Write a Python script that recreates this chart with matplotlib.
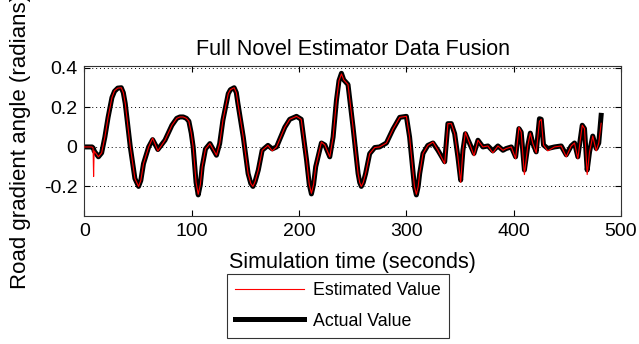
import matplotlib
matplotlib.use("Agg")
import matplotlib.pyplot as plt
from matplotlib.lines import Line2D

plt.rcParams['font.family'] = ['Liberation Sans', 'DejaVu Sans']
plt.rcParams['axes.unicode_minus'] = False

time_s = [
    0, 7, 8, 8.5, 9, 13, 16, 19, 22, 25.6, 28, 31, 34.3, 36.2, 38, 42.7, 47, 50.4, 52.5, 55, 59.8,
    63.5, 68.4, 75, 81.5, 86, 89, 92, 95, 97.3, 99.5, 101.3,
    104, 106, 108, 109.7, 112.8, 116.9, 123, 126, 129, 134,
    136, 139.5, 141.5, 143, 148, 152.5, 155, 157, 159, 162, 165.6, 171, 175, 179, 186.7,
    191.3, 197.6, 202, 207, 209.5, 211.5, 213.5, 215.5, 220.8, 224, 228.6, 231.7, 234.8, 237.2,
    239.5, 241.6, 245.6, 250.3,
    255, 256.5, 258, 259.8, 262, 265.8, 270.5, 275, 281.4, 287.5, 293.8, 300, 303,
    306, 307.5, 309.3, 311, 312.4, 315.5, 320, 324.8, 329.4, 335.7, 338.7, 341.9, 345,
    348, 350.6, 352.7, 355, 359, 363, 366.7, 371.3, 376, 380.6, 385.3, 390, 393, 397.8, 401.8,
    404.9, 407, 410, 413.2, 415.5, 417.9, 421, 424, 425.7, 427.8, 431.8, 438,
    444.3, 449, 453.6, 456.7, 459.8, 463.9, 466, 468.5, 470.7, 473.7, 476.9, 479.3, 481.5,
]

actual = [
    0, 0, -0.005, -0.01, -0.02, -0.05, -0.03, 0.05, 0.15, 0.25, 0.282, 0.298, 0.30, 0.275, 0.22,
    0.0, -0.16, -0.2, -0.17, -0.085, 0.0,
    0.037, -0.013, 0.034, 0.11, 0.145, 0.152, 0.152, 0.145, 0.13, 0.07, 0.0,
    -0.18, -0.243, -0.19, -0.1, -0.01, 0.017, -0.042, 0.017, 0.135, 0.27,
    0.29, 0.30, 0.275, 0.22, 0.05, -0.135, -0.185, -0.2, -0.175, -0.117, -0.017, 0.008, -0.01,
    0.0, 0.10,
    0.14, 0.155, 0.14, -0.067, -0.19, -0.238, -0.19, -0.1, 0.02, 0.01, -0.05, 0.05, 0.235, 0.336,
    0.373, 0.34, 0.316, 0.10,
    -0.135, -0.18, -0.2, -0.18, -0.135, -0.034, -0.003, 0.0, 0.02, 0.09, 0.15, 0.155, 0.05,
    -0.117, -0.2, -0.243, -0.2, -0.135, -0.033, 0.008, 0.02, -0.017, -0.075, 0.118, 0.118, 0.067,
    -0.05, -0.168, -0.017, 0.067, 0.017, -0.033, 0.034, 0.0, 0.005, -0.02, 0.005, -0.017, -0.008,
    0.0, -0.05,
    0.093, 0.075, -0.117, 0.008, 0.07, 0.017, -0.025, 0.143, 0.14, 0.01, -0.008, 0.0,
    0.005, -0.04, 0.005, 0.02, -0.05, 0.11, 0.093, -0.117, -0.025, 0.055, -0.008, 0.02, 0.16,
]

estimated = [
    0, 0, -0.005, -0.15, -0.02, -0.05, -0.03, 0.05, 0.15, 0.25, 0.285, 0.298, 0.30, 0.275, 0.22,
    0.0, -0.16, -0.2, -0.17, -0.085, 0.0,
    0.045, -0.02, 0.034, 0.11, 0.145, 0.152, 0.152, 0.145, 0.13, 0.07, 0.0,
    -0.18, -0.24, -0.19, -0.1, -0.01, 0.017, -0.042, 0.017, 0.135, 0.27,
    0.29, 0.30, 0.275, 0.22, 0.05, -0.135, -0.185, -0.2, -0.175, -0.117, -0.017, 0.008, -0.02,
    0.0, 0.10,
    0.14, 0.155, 0.14, -0.067, -0.19, -0.235, -0.19, -0.1, 0.025, 0.01, -0.05, 0.05, 0.235, 0.336,
    0.37, 0.34, 0.316, 0.10,
    -0.135, -0.18, -0.2, -0.18, -0.135, -0.034, -0.003, 0.0, 0.02, 0.09, 0.15, 0.155, 0.05,
    -0.117, -0.2, -0.24, -0.2, -0.135, -0.033, 0.008, 0.025, -0.017, -0.085, 0.118, 0.118, 0.067,
    -0.05, -0.18, -0.017, 0.075, 0.017, -0.045, 0.034, 0.0, 0.005, -0.03, 0.005, -0.017, -0.008,
    0.0, -0.06,
    0.1, 0.075, -0.14, 0.008, 0.07, 0.017, -0.03, 0.13, 0.14, 0.01, -0.02, 0.0,
    0.005, -0.05, 0.005, 0.02, -0.06, 0.11, 0.093, -0.14, -0.025, 0.055, -0.02, 0.02, 0.12,
]

x_ticks = [0, 100, 200, 300, 400, 500]
y_ticks = [-0.2, 0, 0.2, 0.4]
y_tick_labels = ['-0.2', '0', '0.2', '0.4']

fig = plt.figure(figsize=(6.39, 3.44), dpi=100)
ax = fig.add_axes([0.1322, 0.372, 0.8396, 0.4361])

ax.plot(time_s, actual, color='black', lw=3.6, solid_joinstyle='round', zorder=2)
ax.plot(time_s, estimated, color='red', lw=0.8, zorder=3)

ax.set_xlim(0, 500)
ax.set_ylim(-0.35, 0.41)
ax.set_xticks(x_ticks)
ax.set_yticks(y_ticks)
ax.set_yticklabels(y_tick_labels)
ax.tick_params(direction='in', top=True, right=True, length=4, labelsize=14, width=0.8,
               colors='black', pad=5)
ax.yaxis.grid(True, linestyle=(0, (1, 3)), color='black', lw=0.7)
for s in ax.spines.values():
    s.set_color('#333333')
    s.set_linewidth(0.8)

ax.set_title('Full Novel Estimator Data Fusion', fontsize=15.5, pad=8)
ax.set_xlabel('Simulation time (seconds)', fontsize=15.5, labelpad=9)
ax.set_ylabel('Road gradient angle (radians)', fontsize=16, labelpad=9)

handles = [Line2D([], [], color='red', lw=0.8), Line2D([], [], color='black', lw=3.6)]
leg = fig.legend(handles, ['Estimated Value', 'Actual Value'], loc='center',
                 bbox_to_anchor=(338 / 639, 1 - 306 / 344), fontsize=12.8, frameon=True,
                 fancybox=False, edgecolor='black', handlelength=3.9, borderpad=0.45,
                 labelspacing=0.75, handletextpad=0.5)
leg.get_frame().set_linewidth(0.8)

fig.savefig('out.png', dpi=100)
